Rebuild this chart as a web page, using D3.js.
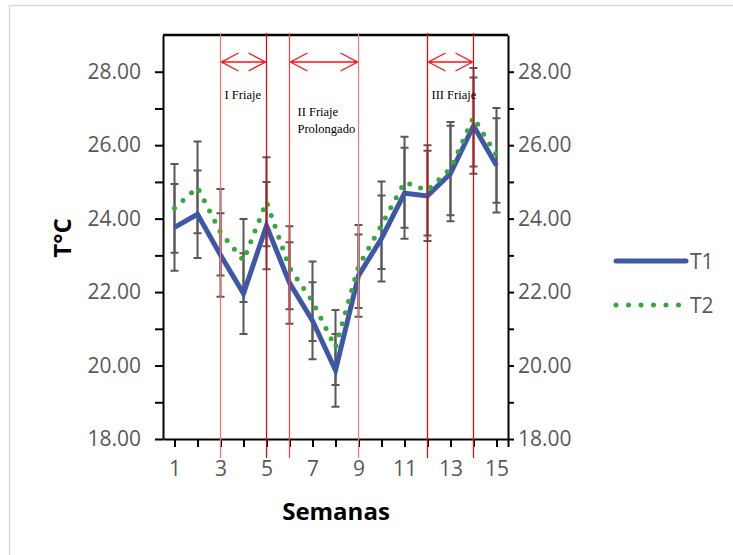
<!DOCTYPE html>
<meta charset="utf-8">
<style>
body { margin: 0; background: #fff; }
text { font-family: "Open Sans", sans-serif; }
.tick text { fill: #595959; font-size: 21px; }
.axis path, .axis line { stroke: #000; stroke-width: 2px; }
.friaje text { font-family: "Liberation Serif", serif; font-size: 12.5px; fill: #000; }
</style>
<body>
<svg width="733" height="555"></svg>
<script src="https://d3js.org/d3.v7.min.js"></script>
<script>
// semanas 1..15
const weeks = [1, 2, 3, 4, 5, 6, 7, 8, 9, 10, 11, 12, 13, 14, 15]
const t1 = [23.76, 24.12, 23.01, 21.96, 23.81, 22.25, 21.22, 19.87, 22.45, 23.46, 24.69, 24.62, 25.23, 26.53, 25.45]
const t1Err = [1.18, 1.19, 1.14, 1.10, 1.19, 1.11, 1.05, 0.99, 1.12, 1.17, 1.24, 1.23, 1.30, 1.31, 1.28]
const t2 = [24.28, 24.85, 23.63, 22.86, 24.46, 22.66, 21.75, 20.49, 22.70, 23.82, 24.99, 24.77, 25.36, 26.76, 25.72]
const t2Err = [1.21, 1.25, 1.18, 1.13, 1.21, 1.13, 1.08, 1.02, 1.13, 1.19, 1.24, 1.23, 1.27, 1.34, 1.29]
const yTicks = [18, 19, 20, 21, 22, 23, 24, 25, 26, 27, 28]
const friajeStart = [3, 6, 12]
const friajeEnd = [5, 9, 14]
const friajeLabels = [["I Friaje"], ["II Friaje", "Prolongado"], ["III Friaje"]]

const svg = d3.select("svg")
const pLeft = 163, pRight = 508, pTop = 35, pBottom = 439

const x = d3.scaleLinear().domain([0.5, 15.5]).range([pLeft, pRight])
const y = d3.scaleLinear().domain([18, 29]).range([pBottom, pTop])

// outer frame
svg.append("rect")
  .attr("x", 9.5).attr("y", 5.5).attr("width", 760).attr("height", 600)
  .attr("fill", "none").attr("stroke", "#d9d9d9").attr("stroke-width", 1.5)

// top border of plot
svg.append("line")
  .attr("x1", pLeft).attr("x2", pRight).attr("y1", pTop).attr("y2", pTop)
  .attr("stroke", "#000").attr("stroke-width", 2.5)

const fmt = (d) => d % 2 == 0 ? d.toFixed(2) : ""

svg.append("g").attr("class", "axis")
  .attr("transform", `translate(${pLeft},0)`)
  .call(d3.axisLeft(y).tickValues(yTicks).tickFormat(fmt).tickSize(8).tickPadding(14).tickSizeOuter(0))

svg.append("g").attr("class", "axis")
  .attr("transform", `translate(${pRight},0)`)
  .call(d3.axisRight(y).tickValues(yTicks).tickFormat(fmt).tickSize(6).tickPadding(4).tickSizeOuter(0))

svg.append("g").attr("class", "axis")
  .attr("transform", `translate(0,${pBottom})`)
  .call(d3.axisBottom(x).tickValues(weeks.concat([15.5])).tickFormat((d) => d % 2 == 1 ? d : "").tickSize(8).tickPadding(14).tickSizeOuter(0))

// error bars
const errGroup = svg.append("g").attr("stroke", "#595959").attr("stroke-width", 2).attr("fill", "none")
function drawErr(vals, errs) {
  weeks.forEach((w, i) => {
    const cx = x(w), y0 = y(vals[i] - errs[i]), y1 = y(vals[i] + errs[i])
    errGroup.append("path")
      .attr("d", `M${cx},${y0}V${y1}M${cx - 4},${y0}H${cx + 4}M${cx - 4},${y1}H${cx + 4}`)
  })
}
drawErr(t1, t1Err)
drawErr(t2, t2Err)

const line = d3.line().x((d, i) => x(weeks[i])).y((d) => y(d))

svg.append("path").datum(t1)
  .attr("d", line)
  .attr("fill", "none").attr("stroke", "#3f58a6").attr("stroke-width", 5)
  .attr("stroke-linejoin", "miter")

svg.append("path").datum(t2)
  .attr("d", line)
  .attr("fill", "none").attr("stroke", "#35a83c").attr("stroke-width", 5)
  .attr("stroke-linecap", "round").attr("stroke-dasharray", "0 11.5")

// friaje markers
const fr = svg.append("g").attr("class", "friaje")
const vlines = [3, 5, 6, 9, 12, 14]
const vcolors = ["#ff6f6f", "#e60000", "#ff4040", "#ff7575", "#f00000", "#f00000"]
vlines.forEach((w, i) => {
  fr.append("line")
    .attr("x1", x(w)).attr("x2", x(w)).attr("y1", 33).attr("y2", 458)
    .attr("stroke", vcolors[i]).attr("stroke-width", 1.2)
})

friajeStart.forEach((s, i) => {
  const x0 = x(s) + 1, x1 = x(friajeEnd[i]) - 1, ay = 62
  fr.append("path")
    .attr("d", `M${x0},${ay}H${x1}M${x0 + 17},${ay - 9}L${x0},${ay}L${x0 + 17},${ay + 9}M${x1 - 17},${ay - 9}L${x1},${ay}L${x1 - 17},${ay + 9}`)
    .attr("fill", "none").attr("stroke", "#ff1010").attr("stroke-width", 1.3)
  const t = fr.append("text")
    .attr("x", x(s) + (i == 1 ? 8 : 4)).attr("y", i == 1 ? 116 : 99)
  friajeLabels[i].forEach((l, j) => {
    t.append("tspan").attr("x", x(s) + (i == 1 ? 8 : 4)).attr("dy", j == 0 ? 0 : 17).text(l)
  })
})

// axis titles
svg.append("text")
  .attr("x", 336).attr("y", 520)
  .attr("text-anchor", "middle").attr("font-weight", "bold").attr("font-size", 24)
  .text("Semanas")

svg.append("text")
  .attr("transform", "translate(71,238) rotate(-90)")
  .attr("text-anchor", "middle").attr("font-weight", "bold").attr("font-size", 24)
  .text("T°C")

// legend
const lg = svg.append("g")
lg.append("line").attr("x1", 616).attr("x2", 686).attr("y1", 261).attr("y2", 261)
  .attr("stroke", "#3f58a6").attr("stroke-width", 5).attr("stroke-linecap", "round")
lg.append("line").attr("x1", 616).attr("x2", 686).attr("y1", 305).attr("y2", 305)
  .attr("stroke", "#35a83c").attr("stroke-width", 5).attr("stroke-linecap", "round").attr("stroke-dasharray", "0 12.5")
lg.append("text").attr("x", 690).attr("y", 269).attr("font-size", 21).attr("fill", "#595959").text("T1")
lg.append("text").attr("x", 690).attr("y", 313).attr("font-size", 21).attr("fill", "#595959").text("T2")
</script>
</body>
